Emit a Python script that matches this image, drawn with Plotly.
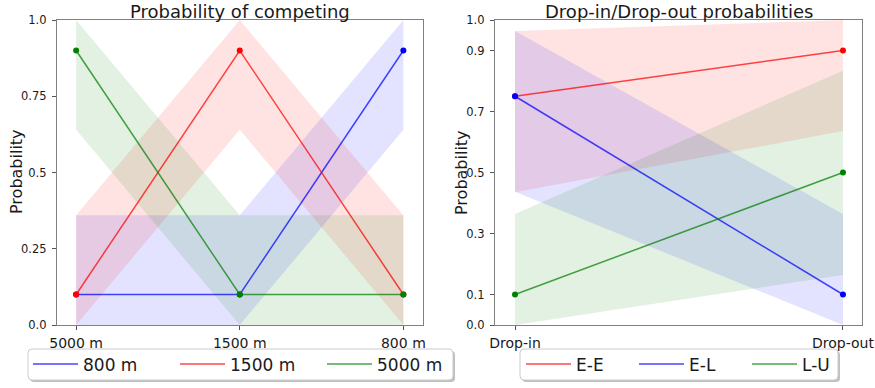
import plotly.graph_objects as go

# ---- data: left panel ----
events = ["5000 m", "1500 m", "800 m"]
series_left = ["800 m", "1500 m", "5000 m"]
mean_800 = [0.1, 0.1, 0.9]
lo_800 = [0.0, 0.0, 0.64]
hi_800 = [0.36, 0.36, 1.0]
mean_1500 = [0.1, 0.9, 0.1]
lo_1500 = [0.0, 0.64, 0.0]
hi_1500 = [0.36, 1.0, 0.36]
mean_5000 = [0.9, 0.1, 0.1]
lo_5000 = [0.64, 0.0, 0.0]
hi_5000 = [1.0, 0.36, 0.36]
left_yticks = [0.0, 0.25, 0.5, 0.75, 1.0]
left_yticklabels = ["0.0", "0.25", "0.5", "0.75", "1.0"]

# ---- data: right panel ----
phases = ["Drop-in", "Drop-out"]
series_right = ["E-E", "E-L", "L-U"]
mean_ee = [0.75, 0.9]
lo_ee = [0.435, 0.636]
hi_ee = [0.964, 1.0]
mean_el = [0.75, 0.1]
lo_el = [0.437, 0.0]
hi_el = [0.964, 0.364]
mean_lu = [0.1, 0.5]
lo_lu = [0.0, 0.164]
hi_lu = [0.364, 0.834]
right_yticks = [0.0, 0.1, 0.3, 0.5, 0.7, 0.9, 1.0]
right_yticklabels = ["0.0", "0.1", "0.3", "0.5", "0.7", "0.9", "1.0"]

COL = {"r": (255, 0, 0), "b": (0, 0, 255), "g": (0, 128, 0)}


def rgba(c, a):
    r, g, b = COL[c]
    return f"rgba({r},{g},{b},{a})"


W, H = 875, 388
FONT = "DejaVu Sans"

fig = go.Figure()

left = [(series_left[0], mean_800, lo_800, hi_800, "b"),
        (series_left[1], mean_1500, lo_1500, hi_1500, "r"),
        (series_left[2], mean_5000, lo_5000, hi_5000, "g")]
right = [(series_right[0], mean_ee, lo_ee, hi_ee, "r"),
         (series_right[1], mean_el, lo_el, hi_el, "b"),
         (series_right[2], mean_lu, lo_lu, hi_lu, "g")]


def add_panel(cats, groups, xa, ya, legend):
    for name, m, lo, hi, c in groups:
        fig.add_trace(go.Scatter(
            x=list(cats) + list(cats)[::-1], y=list(hi) + list(lo)[::-1],
            fill="toself", fillcolor=rgba(c, 0.11), line=dict(width=0),
            mode="lines", hoverinfo="skip", showlegend=False,
            xaxis=xa, yaxis=ya))
    for name, m, lo, hi, c in groups:
        fig.add_trace(go.Scatter(
            x=cats, y=m, mode="lines", name=name,
            line=dict(color=rgba(c, 0.72), width=1.5),
            xaxis=xa, yaxis=ya, legend=legend))
        fig.add_trace(go.Scatter(
            x=cats, y=m, mode="markers", showlegend=False,
            marker=dict(color=rgba(c, 1), size=6),
            xaxis=xa, yaxis=ya))


add_panel(events, left, "x", "y", "legend")
add_panel(phases, right, "x2", "y2", "legend2")


def px_x(p):
    return p / W


def px_y(p):
    return 1 - p / H


def rounded_box(x0, y0, x1, y1, r=4):
    X = px_x
    Y = px_y
    return (f"M{X(x0 + r)},{Y(y0)} L{X(x1 - r)},{Y(y0)} Q{X(x1)},{Y(y0)} {X(x1)},{Y(y0 + r)} "
            f"L{X(x1)},{Y(y1 - r)} Q{X(x1)},{Y(y1)} {X(x1 - r)},{Y(y1)} "
            f"L{X(x0 + r)},{Y(y1)} Q{X(x0)},{Y(y1)} {X(x0)},{Y(y1 - r)} "
            f"L{X(x0)},{Y(y0 + r)} Q{X(x0)},{Y(y0)} {X(x0 + r)},{Y(y0)} Z")


shapes = []
for (bx0, bx1) in [(28, 453), (520, 838)]:
    shapes.append(dict(type="path", xref="paper", yref="paper",
                       path=rounded_box(bx0 + 2, 351, bx1 + 2, 382),
                       fillcolor="rgba(0,0,0,0.25)", line=dict(width=0), layer="above"))
    shapes.append(dict(type="path", xref="paper", yref="paper",
                       path=rounded_box(bx0, 349, bx1, 380),
                       fillcolor="white", line=dict(color="#cccccc", width=1), layer="above"))

axis_common = dict(showgrid=False, zeroline=False, showline=True, mirror=True,
                   linecolor="#808080", linewidth=1.2, ticks="outside",
                   ticklen=4, tickcolor="#555555", automargin=False)

legend_common = dict(orientation="h", xanchor="left", yanchor="middle",
                     y=px_y(364.5), bgcolor="rgba(0,0,0,0)", borderwidth=0,
                     font=dict(size=17, family=FONT), itemwidth=45,
                     entrywidthmode="pixels")

fig.update_layout(
    width=W, height=H,
    margin=dict(l=0, r=0, t=0, b=0),
    paper_bgcolor="white", plot_bgcolor="white",
    font=dict(family=FONT, color="#1a1a1a"),
    xaxis=dict(domain=[px_x(57), px_x(423)], type="category",
               range=[-0.117, 2.12], anchor="y", ticklabelstandoff=1,
               tickfont=dict(size=14), **axis_common),
    yaxis=dict(domain=[px_y(325), px_y(20)], range=[0, 1], anchor="x",
               tickvals=left_yticks, ticktext=left_yticklabels,
               ticklabelstandoff=3, tickfont=dict(size=11.5), **axis_common),
    xaxis2=dict(domain=[px_x(495), px_x(862)], type="category",
                range=[-0.061, 1.058], anchor="y2", ticklabelstandoff=1,
                tickfont=dict(size=14), **axis_common),
    yaxis2=dict(domain=[px_y(325), px_y(20)], range=[0, 1], anchor="x2",
                tickvals=right_yticks, ticktext=right_yticklabels,
                ticklabelstandoff=3, tickfont=dict(size=11.5), **axis_common),
    legend=dict(x=px_x(28), entrywidth=87, **legend_common),
    legend2=dict(x=px_x(521), entrywidth=53, **legend_common),
    shapes=shapes,
    annotations=[
        dict(text="Probability of competing", x=px_x(240), y=px_y(11),
             xref="paper", yref="paper", showarrow=False,
             font=dict(size=18, family=FONT), xanchor="center", yanchor="middle"),
        dict(text="Drop-in/Drop-out probabilities", x=px_x(679), y=px_y(11),
             xref="paper", yref="paper", showarrow=False,
             font=dict(size=18, family=FONT), xanchor="center", yanchor="middle"),
        dict(text="Probability", x=px_x(16), y=px_y(172), textangle=-90,
             xref="paper", yref="paper", showarrow=False,
             font=dict(size=16, family=FONT), xanchor="center", yanchor="middle"),
        dict(text="Probability", x=px_x(461), y=px_y(172), textangle=-90,
             xref="paper", yref="paper", showarrow=False,
             font=dict(size=16, family=FONT), xanchor="center", yanchor="middle"),
    ],
)

fig.write_html("out.html",
               config={"displayModeBar": False},
               post_script="document.body.style.margin='0';document.body.style.overflow='hidden';")
